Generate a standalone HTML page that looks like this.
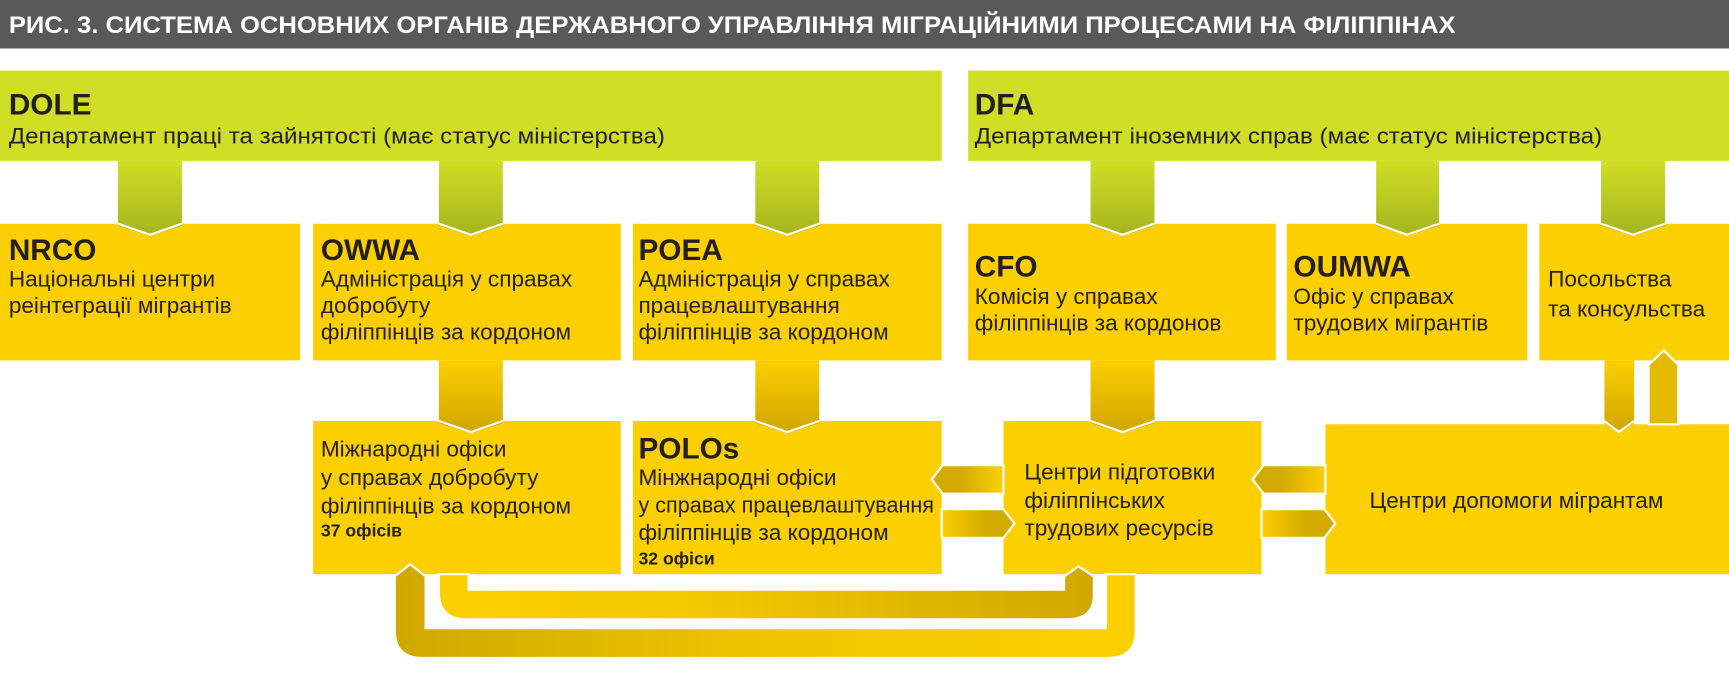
<!DOCTYPE html>
<html><head><meta charset="utf-8"><style>
html,body{margin:0;padding:0;background:#fff;}
svg{display:block;}
text{font-family:"Liberation Sans Narrow","Liberation Sans",sans-serif;fill:#231f20;}
.b{font-weight:bold;font-size:27px;}
.t{font-size:20.5px;}
.s{font-weight:bold;font-size:16px;}
</style></head><body>
<svg width="1729" height="680" viewBox="0 0 1568 617" preserveAspectRatio="none" xmlns="http://www.w3.org/2000/svg">
<defs>
<linearGradient id="gv" x1="0" y1="0" x2="0" y2="1"><stop offset="0" stop-color="#d0de25"/><stop offset="1" stop-color="#a5b41e"/></linearGradient>
<linearGradient id="yv" x1="0" y1="0" x2="0" y2="1"><stop offset="0" stop-color="#fccf00"/><stop offset="1" stop-color="#cfa500"/></linearGradient>
<linearGradient id="yh1" x1="0" y1="0" x2="1" y2="0"><stop offset="0" stop-color="#fccf00"/><stop offset="0.45" stop-color="#f0c600"/><stop offset="1" stop-color="#d0a800"/></linearGradient>
<linearGradient id="yh2" x1="0" y1="0" x2="1" y2="0"><stop offset="0" stop-color="#d0a800"/><stop offset="0.5" stop-color="#efc500"/><stop offset="1" stop-color="#fccf00"/></linearGradient>
<linearGradient id="ar" x1="0" y1="0" x2="1" y2="0"><stop offset="0" stop-color="#fccf00"/><stop offset="0.6" stop-color="#d3ab00"/><stop offset="1" stop-color="#d3ab00"/></linearGradient>
<linearGradient id="al" x1="0" y1="0" x2="1" y2="0"><stop offset="0" stop-color="#d3ab00"/><stop offset="0.4" stop-color="#d3ab00"/><stop offset="1" stop-color="#fccf00"/></linearGradient>
</defs>
<rect x="0" y="0" width="1568" height="44" fill="#59595b"/>
<text x="8" y="30" style="fill:#fff;font-weight:bold;font-size:22px" textLength="1312" lengthAdjust="spacingAndGlyphs">РИС. 3. СИСТЕМА ОСНОВНИХ ОРГАНІВ ДЕРЖАВНОГО УПРАВЛІННЯ МІГРАЦІЙНИМИ ПРОЦЕСАМИ НА ФІЛІППІНАХ</text>
<rect x="0" y="64" width="854" height="82" fill="#d0de25"/>
<rect x="878" y="64" width="690" height="82" fill="#d0de25"/>
<text class="b" x="8" y="104">DOLE</text>
<text class="t" x="8" y="130" textLength="595" lengthAdjust="spacingAndGlyphs">Департамент праці та зайнятості (має статус міністерства)</text>
<text class="b" x="884" y="104">DFA</text>
<text class="t" x="884" y="130" textLength="569" lengthAdjust="spacingAndGlyphs">Департамент іноземних справ (має статус міністерства)</text>
<g fill="#fccf00">
<rect x="0" y="203" width="272" height="124"/>
<rect x="284" y="203" width="279" height="124"/>
<rect x="574" y="203" width="280" height="124"/>
<rect x="878" y="203" width="279" height="124"/>
<rect x="1167" y="203" width="218" height="124"/>
<rect x="1396" y="203" width="172" height="124"/>
<rect x="284" y="382" width="279" height="139"/>
<rect x="574" y="382" width="280" height="139"/>
<rect x="910" y="382" width="234" height="139"/>
<rect x="1202" y="385" width="366" height="136"/>
</g>
<g fill="url(#gv)">
<path d="M107,146H165V205L136,214L107,205Z"/>
<path d="M398,146H456V205L427,214L398,205Z"/>
<path d="M685,146H743V205L714,214L685,205Z"/>
<path d="M989,146H1047V205L1018,214L989,205Z"/>
<path d="M1248,146H1305V205L1276,214L1248,205Z"/>
<path d="M1452,146H1510V205L1481,214L1452,205Z"/>
</g>
<g fill="none" stroke="#fff" stroke-width="2">
<path d="M107,203L136,213L165,203"/><path d="M398,203L427,213L456,203"/><path d="M685,203L714,213L743,203"/>
<path d="M989,203L1018,213L1047,203"/><path d="M1248,203L1276,213L1305,203"/><path d="M1452,203L1481,213L1510,203"/>
</g>
<g fill="url(#yv)">
<path d="M398,327H456V384L427,393L398,384Z"/>
<path d="M685,327H743V384L714,393L685,384Z"/>
<path d="M989,327H1047V384L1018,393L989,384Z"/>
<path d="M1455,327H1482V384L1468,393L1455,384Z"/>
</g>
<g fill="none" stroke="#fff" stroke-width="2">
<path d="M398,382L427,392L456,382"/><path d="M685,382L714,392L743,382"/><path d="M989,382L1018,392L1047,382"/>
<path d="M1455,382L1468,392L1482,382"/>
</g>
<path d="M1495,385V331L1509,318L1522,331V385Z" fill="#e2bb00" stroke="#fff" stroke-width="2"/>
<path d="M910,422H855L845,435L855,448H910Z" fill="url(#al)" stroke="#fff" stroke-width="2"/>
<path d="M854,462H910L920,475L910,488H854Z" fill="url(#ar)" stroke="#fff" stroke-width="2"/>
<path d="M1202,422H1146L1136,435L1146,448H1202Z" fill="url(#al)" stroke="#fff" stroke-width="2"/>
<path d="M1144,462H1201L1211,475L1201,488H1144Z" fill="url(#ar)" stroke="#fff" stroke-width="2"/>
<path d="M358,523L372,512L386,523V570H1003V521H1030V572Q1030,597 1005,597H383Q358,597 358,572Z" fill="url(#yh2)" stroke="#fff" stroke-width="2"/>
<path d="M398,521H425V535H965V523L978,514L992,523V540Q992,562 967,562H423Q398,562 398,537Z" fill="url(#yh1)" stroke="#fff" stroke-width="2"/>
<text class="b" x="8" y="236">NRCO</text>
<text class="t" x="8" y="260">Національні центри</text>
<text class="t" x="8" y="284">реінтеграції мігрантів</text>
<text class="b" x="291" y="236">OWWA</text>
<text class="t" x="291" y="260">Адміністрація у справах</text>
<text class="t" x="291" y="284">добробуту</text>
<text class="t" x="291" y="308">філіппінців за кордоном</text>
<text class="b" x="579" y="236">POEA</text>
<text class="t" x="579" y="260">Адміністрація у справах</text>
<text class="t" x="579" y="284">працевлаштування</text>
<text class="t" x="579" y="308">філіппінців за кордоном</text>
<text class="b" x="884" y="251">CFO</text>
<text class="t" x="884" y="276">Комісія у справах</text>
<text class="t" x="884" y="300">філіппінців за кордонов</text>
<text class="b" x="1173" y="251">OUMWA</text>
<text class="t" x="1173" y="276">Офіс у справах</text>
<text class="t" x="1173" y="300">трудових мігрантів</text>
<text class="t" x="1404" y="260">Посольства</text>
<text class="t" x="1404" y="287">та консульства</text>
<text class="t" x="291" y="414">Міжнародні офіси</text>
<text class="t" x="291" y="440">у справах добробуту</text>
<text class="t" x="291" y="466">філіппінців за кордоном</text>
<text class="s" x="291" y="487">37 офісів</text>
<text class="b" x="579" y="416">POLOs</text>
<text class="t" x="579" y="440">Мінжнародні офіси</text>
<text class="t" x="579" y="465" textLength="268" lengthAdjust="spacingAndGlyphs">у справах працевлаштування</text>
<text class="t" x="579" y="490">філіппінців за кордоном</text>
<text class="s" x="579" y="512">32 офіси</text>
<text class="t" x="929" y="435">Центри підготовки</text>
<text class="t" x="929" y="461">філіппінських</text>
<text class="t" x="929" y="486">трудових ресурсів</text>
<text class="t" x="1242" y="461">Центри допомоги мігрантам</text>
</svg>
</body></html>
